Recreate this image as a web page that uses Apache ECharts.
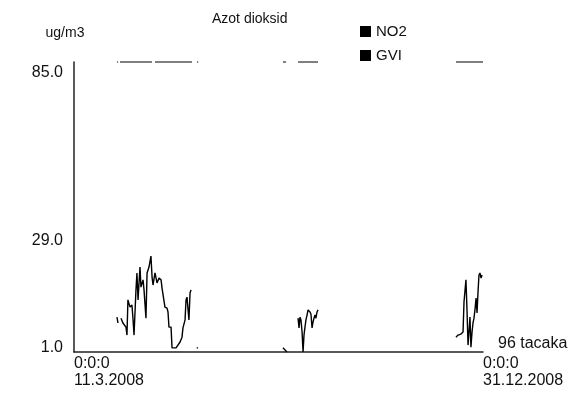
<!DOCTYPE html>
<html>
<head>
<meta charset="utf-8">
<script src="https://cdn.jsdelivr.net/npm/echarts@6/dist/echarts.min.js"></script>
<style>html,body{margin:0;padding:0;background:#fff}#c{width:574px;height:396px}</style>
</head>
<body>
<div id="c"></div>
<script>
// Day offsets from 11.3.2008 (0) to 31.12.2008 (295); null value = gap
const no2Day = [31.0,31.7,32.5,
  33.9,35.3,37.5,38.2,38.9,40.4,41.8,42.6,43.3,44.7,45.4,46.2,47.6,48.3,49.8,50.5,51.9,52.7,54.1,55.5,
  56.3,57.0,58.4,59.9,61.3,62.8,63.5,64.9,65.6,67.1,67.8,68.5,70.0,70.7,72.1,73.6,75.0,76.5,77.9,78.6,
  80.1,80.8,81.5,82.9,83.7,84.4,86.0,
  88.5,89.5,120.0,
  150.7,153.6,158.0,
  161.6,162.3,163.0,163.7,164.5,165.2,165.9,166.6,167.3,168.1,168.8,169.5,170.2,170.9,171.7,172.4,173.1,173.8,174.5,175.3,176.0,200.0,
  275.5,277.0,277.7,279.1,280.6,281.3,282.7,283.5,284.2,284.9,285.6,286.3,287.1,287.8,288.5,289.2,290.0,290.7,291.4,292.1,292.8,293.6,294.3];
const no2Val = [11.1,9.4,null,
  10.8,9.4,8.2,5.9,16.1,14.0,14.6,10.3,5.9,19.0,23.9,16.1,25.6,19.8,21.9,19.0,10.8,23.9,25.6,28.8,
  22.7,20.4,23.9,21.0,22.4,21.9,19.5,19.0,14.0,13.7,12.6,8.2,8.2,2.2,2.4,2.2,2.7,3.9,5.3,8.0,
  10.3,16.1,16.9,10.3,18.1,19.0,null,
  2.2,2.2,null,
  2.2,1.0,null,
  10.8,8.0,11.1,10.3,6.8,1.0,5.9,8.2,10.3,11.7,13.2,13.7,12.6,12.0,8.0,9.7,10.8,11.7,10.8,12.6,13.2,null,
  5.3,5.9,5.6,6.2,6.8,15.5,21.9,12.6,3.0,6.8,11.1,2.4,6.8,9.4,10.8,13.2,16.6,12.3,18.4,23.3,23.9,22.4,23.3];
const gviDay = [31.0,31.8,32.5,33.2,56.3,57.0,58.4,85.1,86.0,88.7,89.6,120.0,150.7,152.9,158.0,161.6,176.0,200.0,275.5,295.0];
const gviVal = [85,85,null,85,85,null,85,85,null,85,85,null,85,85,null,85,85,null,85,85];

const yTickLabels = ['1.0','29.0','85.0'];
const yTickPos = [2.2,33.4,81.8];
const xTickLabels = ['0:0:0\n11.3.2008','0:0:0\n31.12.2008'];
const xTickPos = [0,295];

const chart = echarts.init(document.getElementById('c'));
const font = 'Liberation Sans, Arial, sans-serif';
chart.setOption({
  animation:false,
  backgroundColor:'#fff',
  title:{text:'Azot dioksid',left:207,top:7,textStyle:{fontFamily:font,fontSize:14,fontWeight:'normal',color:'#111'}},
  legend:{orient:'vertical',left:360,top:24,padding:0,itemWidth:11,itemHeight:11,itemGap:9,icon:'rect',
    textStyle:{fontFamily:font,fontSize:15,color:'#111'},
    data:['NO2','GVI']},
  grid:{left:74,right:91,top:62,bottom:44,containLabel:false},
  xAxis:{type:'value',min:0,max:295,
    name:'96 tacaka',nameLocation:'end',nameGap:15,
    nameTextStyle:{fontFamily:font,fontSize:16,color:'#111',verticalAlign:'bottom',align:'left',padding:[0,0,0,0]},
    axisLine:{lineStyle:{color:'#222',width:1.5}},axisTick:{show:false},splitLine:{show:false},
    axisLabel:{customValues:xTickPos,align:'left',margin:3,lineHeight:17,fontFamily:font,fontSize:16,color:'#111',
      formatter:function(v){const i=xTickPos.indexOf(v);return i>=0?xTickLabels[i]:'';}}},
  yAxis:{type:'value',min:1,max:85,
    name:'ug/m3',nameLocation:'end',nameGap:22,
    nameTextStyle:{fontFamily:font,fontSize:14,color:'#111',align:'center',padding:[0,18,0,0]},
    axisLine:{show:true,lineStyle:{color:'#222',width:1.5}},axisTick:{show:false},splitLine:{show:false},
    axisLabel:{customValues:yTickPos,margin:11,fontFamily:font,fontSize:16,color:'#111',
      formatter:function(v){let best=0;for(let i=0;i<yTickPos.length;i++){if(Math.abs(yTickPos[i]-v)<Math.abs(yTickPos[best]-v))best=i;}return yTickLabels[best];}}},
  series:[
    {name:'NO2',type:'line',showSymbol:false,connectNulls:false,clip:false,color:'#000',
      lineStyle:{color:'#000',width:1.4},
      data:no2Day.map((d,i)=>[d,no2Val[i]===null?'-':no2Val[i]])},
    {name:'GVI',type:'line',showSymbol:false,connectNulls:false,clip:false,color:'#000',
      lineStyle:{color:'#000',width:1},
      data:gviDay.map((d,i)=>[d,gviVal[i]===null?'-':gviVal[i]])}
  ]
});
</script>
</body>
</html>
